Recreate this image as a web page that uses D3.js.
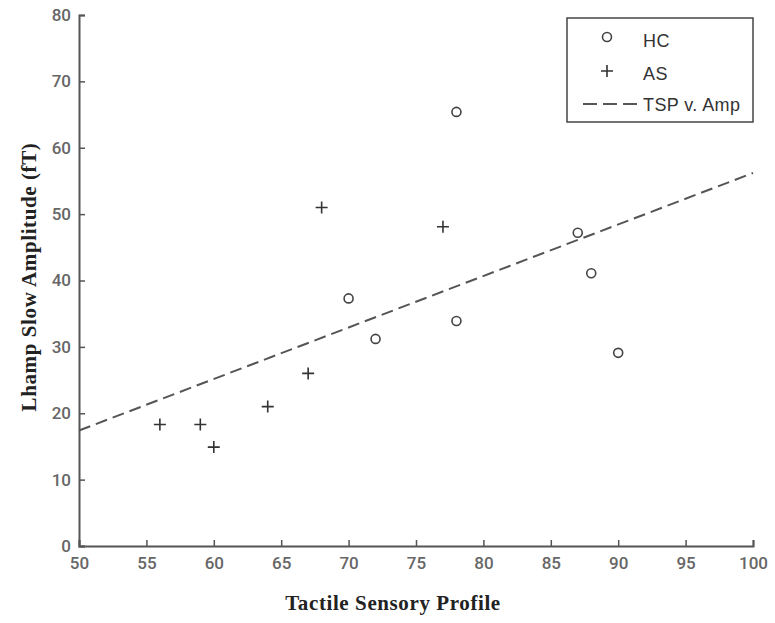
<!DOCTYPE html>
<html>
<head>
<meta charset="utf-8">
<script src="https://cdn.jsdelivr.net/npm/d3@7"></script>
<style>
  body { margin: 0; background: #fff; }
  svg { display: block; }
  .tick text { font-family: Roboto, Arial, sans-serif; font-size: 17px; font-weight: 500; fill: #666; }
  .title { font-family: "Liberation Serif", "DejaVu Serif", serif; font-weight: bold; font-size: 21px; fill: #222; letter-spacing: 0.6px; }
</style>
</head>
<body>
<svg width="775" height="623"></svg>
<script>
// Healthy controls (HC)
const hcX = [70, 72, 78, 78, 87, 88, 90];
const hcY = [37.3, 31.2, 65.4, 33.9, 47.2, 41.1, 29.1];

// AS group
const asX = [56, 59, 60, 64, 67, 68, 77];
const asY = [18.3, 18.3, 14.9, 21.0, 26.0, 51.0, 48.1];

// Fit line TSP v. Amp (endpoints)
const fitX = [50, 100];
const fitY = [17.4, 56.2];

const xTicks = [50, 55, 60, 65, 70, 75, 80, 85, 90, 95, 100];
const yTicks = [0, 10, 20, 30, 40, 50, 60, 70, 80];

const svg = d3.select("svg");
const mLeft = 79, mRight = 753, mTop = 15, mBottom = 546;

const x = d3.scaleLinear().domain([50, 100]).range([mLeft, mRight]);
const y = d3.scaleLinear().domain([0, 80]).range([mBottom, mTop]);

const axisColor = "#555";

// Axes, ticks pointing inward
const xAxis = svg.append("g")
  .attr("transform", `translate(0,${mBottom})`)
  .call(d3.axisBottom(x).tickValues(xTicks).tickSize(-6).tickPadding(11));
const yAxis = svg.append("g")
  .attr("transform", `translate(${mLeft},0)`)
  .call(d3.axisLeft(y).tickValues(yTicks).tickSize(-6).tickPadding(8));

[xAxis, yAxis].forEach(a => {
  a.select(".domain").attr("stroke", axisColor).attr("stroke-width", 2);
  a.selectAll(".tick line").attr("stroke", axisColor).attr("stroke-width", 1.5);
});

// Fit line
svg.append("path")
  .datum(fitX.map((d, i) => [d, fitY[i]]))
  .attr("fill", "none")
  .attr("stroke", "#555")
  .attr("stroke-width", 2)
  .attr("stroke-dasharray", "12,6")
  .attr("d", d3.line().x(d => x(d[0])).y(d => y(d[1])));

// HC circles
svg.append("g").selectAll("circle")
  .data(hcX.map((d, i) => [d, hcY[i]]))
  .join("circle")
  .attr("cx", d => x(d[0]))
  .attr("cy", d => y(d[1]))
  .attr("r", 4.5)
  .attr("fill", "none")
  .attr("stroke", "#444")
  .attr("stroke-width", 1.6);

// AS plus markers
svg.append("g").selectAll("path")
  .data(asX.map((d, i) => [d, asY[i]]))
  .join("path")
  .attr("transform", d => `translate(${x(d[0])},${y(d[1])})`)
  .attr("d", "M-6,0H6M0,-6V6")
  .attr("stroke", "#333")
  .attr("stroke-width", 1.6);

// Axis titles
svg.append("text")
  .attr("class", "title")
  .attr("x", 393).attr("y", 610)
  .attr("text-anchor", "middle")
  .text("Tactile Sensory Profile");

svg.append("text")
  .attr("class", "title")
  .attr("transform", "translate(36,277) rotate(-90)")
  .attr("text-anchor", "middle")
  .text("Lhamp Slow Amplitude (fT)");

// Legend
const legend = svg.append("g");
legend.append("rect")
  .attr("x", 567).attr("y", 18)
  .attr("width", 186).attr("height", 104)
  .attr("fill", "#fff")
  .attr("stroke", "#444")
  .attr("stroke-width", 1.5);

const legendFont = "Arial, 'Liberation Sans', sans-serif";
legend.append("circle")
  .attr("cx", 607).attr("cy", 37).attr("r", 4.5)
  .attr("fill", "none").attr("stroke", "#444").attr("stroke-width", 1.6);
legend.append("path")
  .attr("transform", "translate(607,71)")
  .attr("d", "M-6,0H6M0,-6V6")
  .attr("stroke", "#333").attr("stroke-width", 1.6);
legend.append("line")
  .attr("x1", 583).attr("x2", 637).attr("y1", 104).attr("y2", 104)
  .attr("stroke", "#555").attr("stroke-width", 2)
  .attr("stroke-dasharray", "14,6");

const labels = ["HC", "AS", "TSP v. Amp"];
const labelY = [47, 80, 111];
labels.forEach((t, i) => {
  legend.append("text")
    .attr("x", 643).attr("y", labelY[i])
    .attr("font-family", legendFont)
    .attr("font-size", 18)
    .attr("letter-spacing", 0.4)
    .attr("fill", "#333")
    .text(t);
});
</script>
</body>
</html>
